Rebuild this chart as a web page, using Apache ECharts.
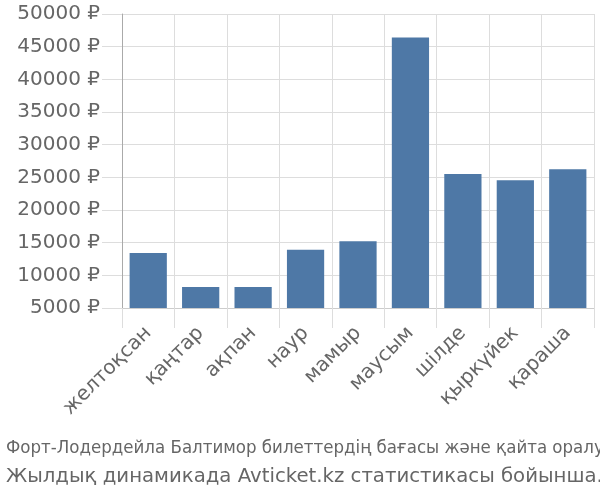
<!DOCTYPE html>
<html>
<head>
<meta charset="utf-8">
<script src="https://cdn.jsdelivr.net/npm/echarts@6/dist/echarts.min.js"></script>
<style>html,body{margin:0;padding:0;background:#fff}#c{width:600px;height:500px}</style>
</head>
<body>
<div id="c"></div>
<script>
const categories = ['желтоқсан','қаңтар','ақпан','наур','мамыр','маусым','шілде','қыркүйек','қараша'];
const prices = [13400, 8200, 8200, 13900, 15200, 46400, 25500, 24550, 26250];
const yMin = 5000, yMax = 50000, yStep = 5000;
const currency = '₽';
const titleLine1 = 'Форт-Лодердейла Балтимор билеттердің бағасы және қайта оралу';
const titleLine2 = 'Жылдық динамикада Avticket.kz статистикасы бойынша.';

const narrowFont = '"Liberation Sans Narrow", "DejaVu Sans Condensed", "Roboto Condensed", "Liberation Sans"';
function fitSize(text, family, width, maxSize) {
  const ctx = document.createElement('canvas').getContext('2d');
  ctx.font = '20px ' + family;
  const w = ctx.measureText(text).width;
  return Math.min(maxSize, 20 * width / w);
}
const size1 = fitSize(titleLine1, narrowFont, 598, 21.5);
const size2 = fitSize(titleLine2, '"DejaVu Sans"', 597, 20);

const chart = echarts.init(document.getElementById('c'), null, {renderer:'canvas'});
chart.setOption({
  animation: false,
  backgroundColor: '#fff',
  title: [
    {text: titleLine1, left: 1, top: 434, textStyle:{fontFamily:narrowFont, fontSize:size1, fontWeight:'normal', color:'#666'}},
    {text: titleLine2, left: 1, top: 462, textStyle:{fontFamily:'DejaVu Sans', fontSize:size2, fontWeight:'normal', color:'#666'}}
  ],
  grid: {left:122, right:6, top:14, bottom:192, containLabel:false},
  xAxis: {
    type:'category', data: categories,
    axisLine:{lineStyle:{color:'#ccc'}},
    axisTick:{show:true, length:20, lineStyle:{color:'#ddd'}},
    splitLine:{show:true, lineStyle:{color:'#ddd', width:1}},
    axisLabel:{rotate:45, fontSize:20, color:'#666', fontFamily:'DejaVu Sans', margin:22, interval:0}
  },
  yAxis: {
    type:'value', min:yMin, max:yMax, interval:yStep,
    axisLine:{show:true, lineStyle:{color:'#aaa'}},
    axisTick:{show:true, length:20, lineStyle:{color:'#ddd'}},
    splitLine:{show:true, lineStyle:{color:'#ddd', width:1}},
    axisLabel:{formatter: v => v + ' ' + currency, fontSize:20, color:'#666', fontFamily:'DejaVu Sans', margin:22}
  },
  series: [{
    type:'bar', data: prices, barWidth:'71%',
    itemStyle:{color:'#4e78a6'}
  }]
});
</script>
</body>
</html>
